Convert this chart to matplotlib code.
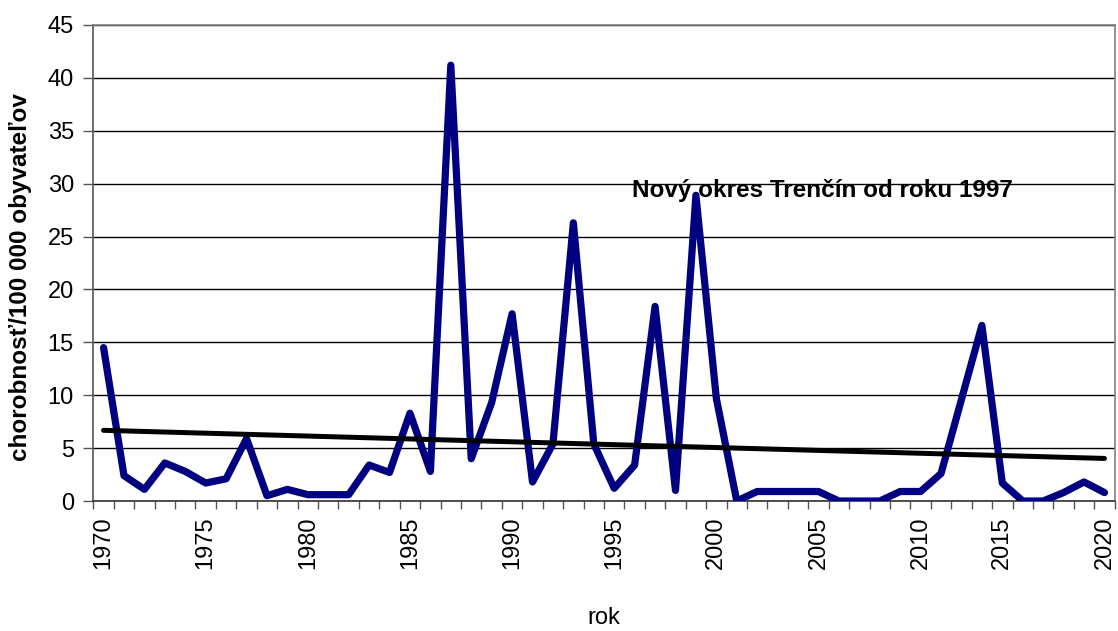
import matplotlib
matplotlib.use("Agg")
import matplotlib.pyplot as plt
import numpy as np

plt.rcParams['font.family'] = ['Liberation Sans', 'DejaVu Sans']

years = list(range(1970, 2011)) + list(range(2012, 2021))
values = [14.5, 2.4, 1.1, 3.6, 2.8, 1.7, 2.1, 5.9, 0.5, 1.1,
          0.6, 0.6, 0.6, 3.4, 2.7, 8.3, 2.8, 41.2, 4.0, 9.3,
          17.7, 1.8, 5.4, 26.3, 5.4, 1.2, 3.4, 18.4, 1.0, 28.9,
          9.7, 0.0, 0.9, 0.9, 0.9, 0.9, 0.0, 0.0, 0.0, 0.9,
          0.9, 2.6, 9.6, 16.6, 1.7, 0.0, 0.0, 0.8, 1.8, 0.8]
label_years = [1970, 1975, 1980, 1985, 1990, 1995, 2000, 2005, 2010, 2015, 2020]
y_ticks = list(range(0, 46, 5))
annotation = "Nový okres Trenčín od roku 1997"
annotation_year = 1997

fig = plt.figure(figsize=(11.18, 6.31), dpi=100)
ax = fig.add_axes([0.0835, 0.206, 0.9135, 0.7544])

idx = np.arange(len(years))
ax.plot(idx, values, color='#000080', linewidth=5.2, solid_joinstyle='round',
        solid_capstyle='round', zorder=3)

coef = np.polyfit(idx, values, 1)
ax.plot(idx, np.polyval(coef, idx), color='black', linewidth=3.6,
        solid_capstyle='round', zorder=4)

ax.set_xlim(-0.5, len(years) - 0.5)
ax.set_ylim(0, 45)
ax.set_yticks(y_ticks)
ax.yaxis.grid(True, color='black', linewidth=1.0)
ax.set_axisbelow(True)
ax.tick_params(axis='y', labelsize=17, length=7, width=1, color='#555555', pad=7)

ax.set_xticks(np.arange(-0.5, len(years), 1.0), minor=True)
ax.set_xticks([years.index(y) for y in label_years])
ax.set_xticklabels([str(y) for y in label_years], rotation=90, fontsize=17)
ax.tick_params(axis='x', which='major', length=0, pad=11)
ax.tick_params(axis='x', which='minor', length=6, width=1, color='#555555')

for s in ax.spines.values():
    s.set_color('#808080')
    s.set_linewidth(1.2)
ax.spines['bottom'].set_color('#333333')
ax.spines['left'].set_color('#555555')

ax.set_ylabel("chorobnosť/100 000 obyvateľov", fontsize=17.5, fontweight='bold')
ax.yaxis.set_label_coords(-0.06, 0.47)
ax.set_xlabel("rok", fontsize=17)
ax.xaxis.set_label_coords(0.5, -0.222)

ax.text(years.index(annotation_year) + 8.2, 29.4, annotation, fontsize=17.5,
        fontweight='bold', ha='center', va='center', zorder=5)

fig.savefig("out.png", dpi=100)
